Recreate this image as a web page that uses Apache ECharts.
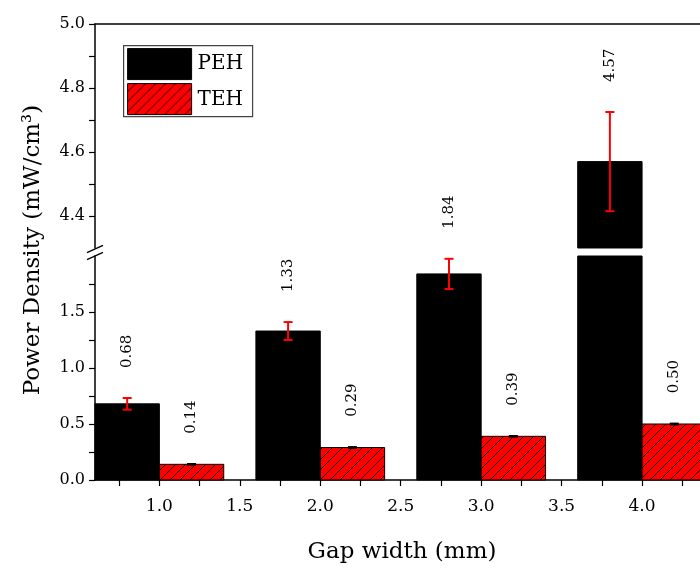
<!DOCTYPE html>
<html>
<head>
<meta charset="utf-8">
<script src="https://cdn.jsdelivr.net/npm/echarts@6/dist/echarts.min.js"></script>
<style>
  html, body { margin: 0; padding: 0; background: #fff; }
  #chart { width: 700px; height: 570px; }
</style>
</head>
<body>
<div id="chart"></div>
<script>
// Power density per gap width, with standard deviations
const gapWidth   = [1.0, 2.0, 3.0, 4.0];
const pehDensity = [0.68, 1.33, 1.84, 4.57];
const pehError   = [0.052, 0.08, 0.135, 0.155];
const tehDensity = [0.14, 0.29, 0.39, 0.50];
const tehError   = [0.005, 0.006, 0.005, 0.006];

// Tick positions and labelled values for the broken y axis and the x axis
const lowerTicks  = [0, 0.25, 0.5, 0.75, 1.0, 1.25, 1.5, 1.75];
const lowerLabels = [0, 0.5, 1.0, 1.5];
const upperTicks  = [4.4, 4.5, 4.6, 4.7, 4.8, 4.9, 5.0];
const upperLabels = [4.4, 4.6, 4.8, 5.0];
const xTicks  = [0.75, 1.0, 1.25, 1.5, 1.75, 2.0, 2.25, 2.5, 2.75, 3.0, 3.25, 3.5, 3.75, 4.0, 4.25];
const xLabels = [1.0, 1.5, 2.0, 2.5, 3.0, 3.5, 4.0];

// Layout
const FONT = 'DejaVu Serif';
const LEFT = 95;
const UPPER_TOP = 24, UPPER_H = 224;
const LOWER_TOP = 256, LOWER_H = 224;
const X_MIN = 0.6, X_MAX = 4.36, PX_PER_X = 161;
const GRID_W = (X_MAX - X_MIN) * PX_PER_X;
const UPPER_RANGE = [4.3, 5.0];
const LOWER_RANGE = [0, 2.0];
const BAR_HALF = 0.2;      // half bar width in x units
const LABEL_LIFT = 30;     // gap between error-bar top and value label, px

// Red fill with black "/" hatching
function hatchPattern() {
  const c = document.createElement('canvas');
  c.width = 10; c.height = 10;
  const g = c.getContext('2d');
  g.fillStyle = '#ff0000';
  g.fillRect(0, 0, 10, 10);
  g.strokeStyle = '#000';
  g.lineWidth = 0.9;
  g.beginPath();
  g.moveTo(0, 10); g.lineTo(10, 0);
  g.moveTo(-2, 2); g.lineTo(2, -2);
  g.moveTo(8, 12); g.lineTo(12, 8);
  g.stroke();
  return c;
}
const HATCH = { image: hatchPattern(), repeat: 'repeat' };

function seriesData(values, errors) {
  return gapWidth.map((x, i) => [x, values[i], errors[i]]);
}

function makeRenderer(side, fill, stroke, errColor, errWidth, range) {
  const [yMin, yMax] = range;
  return function (params, api) {
    const x = api.value(0), v = api.value(1), e = api.value(2);
    const cx = x + side * BAR_HALF;
    const children = [];
    if (v > yMin) {
      const p0 = api.coord([cx - BAR_HALF, Math.min(v, yMax)]);
      const p1 = api.coord([cx + BAR_HALF, yMin]);
      children.push({
        type: 'rect',
        shape: { x: p0[0], y: p0[1], width: p1[0] - p0[0], height: p1[1] - p0[1] },
        style: { fill: fill, stroke: stroke, lineWidth: 1 }
      });
    }
    if (v >= yMin && v <= yMax) {
      const top = api.coord([cx, v + e]);
      const bot = api.coord([cx, v - e]);
      const cap = 4.5;
      children.push({
        type: 'polyline',
        shape: { points: [[top[0], top[1]], [bot[0], bot[1]]] },
        style: { stroke: errColor, lineWidth: errWidth }
      });
      [top, bot].forEach(p => children.push({
        type: 'line',
        shape: { x1: p[0] - cap, y1: p[1], x2: p[0] + cap, y2: p[1] },
        style: { stroke: errColor, lineWidth: errWidth }
      }));
    }
    if (v + e >= yMin && v + e <= yMax) {
      const a = api.coord([cx, v + e]);
      children.push({
        type: 'text',
        x: a[0], y: a[1] - LABEL_LIFT,
        rotation: Math.PI / 2,
        style: {
          text: v.toFixed(2),
          fill: '#000',
          font: '15px "' + FONT + '"',
          align: 'left',
          verticalAlign: 'middle'
        }
      });
    }
    return { type: 'group', children: children };
  };
}

const axisLineStyle = { color: '#000', width: 1.5 };
const tickStyle = { color: '#000', width: 1.2 };
const labelFont = { fontFamily: FONT, fontSize: 16, color: '#000' };

function yAxisFor(gridIndex, range, ticks, labels) {
  return {
    type: 'value', gridIndex: gridIndex,
    min: range[0], max: range[1],
    axisLine: { show: true, lineStyle: axisLineStyle },
    axisTick: { show: true, length: 6, lineStyle: tickStyle, customValues: ticks },
    axisLabel: Object.assign({ margin: 10, customValues: labels, formatter: v => Number(v).toFixed(1) }, labelFont),
    splitLine: { show: false }
  };
}

const series = [];
[[0, UPPER_RANGE], [1, LOWER_RANGE]].forEach(([gi, range]) => {
  series.push({
    type: 'custom', name: 'PEH', xAxisIndex: gi, yAxisIndex: gi,
    clip: false,
    renderItem: makeRenderer(-1, '#000', '#000', '#ff0000', 2, range),
    data: seriesData(pehDensity, pehError),
    encode: { x: 0, y: 1 }
  });
  series.push({
    type: 'custom', name: 'TEH', xAxisIndex: gi, yAxisIndex: gi,
    clip: false,
    renderItem: makeRenderer(1, HATCH, '#000', '#000', 1.5, range),
    data: seriesData(tehDensity, tehError),
    encode: { x: 0, y: 1 }
  });
});

const breakY = [UPPER_TOP + UPPER_H + 1, LOWER_TOP];

const option = {
  backgroundColor: '#fff',
  animation: false,
  grid: [
    { left: LEFT, top: UPPER_TOP, width: GRID_W, height: UPPER_H },
    { left: LEFT, top: LOWER_TOP, width: GRID_W, height: LOWER_H }
  ],
  xAxis: [
    {
      type: 'value', gridIndex: 0, min: X_MIN, max: X_MAX, position: 'top',
      axisLine: { show: true, onZero: false, lineStyle: axisLineStyle },
      axisTick: { show: false }, axisLabel: { show: false }, splitLine: { show: false }
    },
    {
      type: 'value', gridIndex: 1, min: X_MIN, max: X_MAX, position: 'bottom',
      axisLine: { show: true, onZero: false, lineStyle: axisLineStyle },
      axisTick: { show: true, length: 6, lineStyle: tickStyle, customValues: xTicks },
      axisLabel: Object.assign({ margin: 18, customValues: xLabels, formatter: v => Number(v).toFixed(1) }, labelFont, { fontSize: 17 }),
      splitLine: { show: false }
    }
  ],
  yAxis: [
    yAxisFor(0, UPPER_RANGE, upperTicks, upperLabels),
    yAxisFor(1, LOWER_RANGE, lowerTicks, lowerLabels)
  ],
  series: series,
  graphic: [
    // axis break marks
    ...breakY.map(y => ({
      type: 'line',
      shape: { x1: LEFT - 8, y1: y + 3.7, x2: LEFT + 8, y2: y - 3.7 },
      style: { stroke: '#000', lineWidth: 1.3 }
    })),
    // axis titles
    {
      type: 'text', x: 33, y: 250, rotation: Math.PI / 2,
      style: { text: 'Power Density (mW/cm³)', font: '23px "' + FONT + '"', fill: '#000', align: 'center', verticalAlign: 'middle' }
    },
    {
      type: 'text', x: 402, y: 552,
      style: { text: 'Gap width (mm)', font: '23px "' + FONT + '"', fill: '#000', align: 'center', verticalAlign: 'middle' }
    },
    // legend
    {
      type: 'group', left: 123, top: 45,
      children: [
        { type: 'rect', shape: { x: 0, y: 0, width: 129, height: 71 }, style: { fill: '#fff', stroke: '#444', lineWidth: 1.2 } },
        { type: 'rect', shape: { x: 4, y: 3, width: 64, height: 31 }, style: { fill: '#000', stroke: '#000', lineWidth: 1 } },
        { type: 'rect', shape: { x: 4, y: 38, width: 64, height: 31 }, style: { fill: HATCH, stroke: '#000', lineWidth: 1 } },
        { type: 'text', x: 74, y: 18.5, style: { text: 'PEH', font: '20px "' + FONT + '"', fill: '#000', verticalAlign: 'middle' } },
        { type: 'text', x: 74, y: 54, style: { text: 'TEH', font: '20px "' + FONT + '"', fill: '#000', verticalAlign: 'middle' } }
      ]
    }
  ]
};

const chart = echarts.init(document.getElementById('chart'), null, { renderer: 'canvas' });
chart.setOption(option);
</script>
</body>
</html>
